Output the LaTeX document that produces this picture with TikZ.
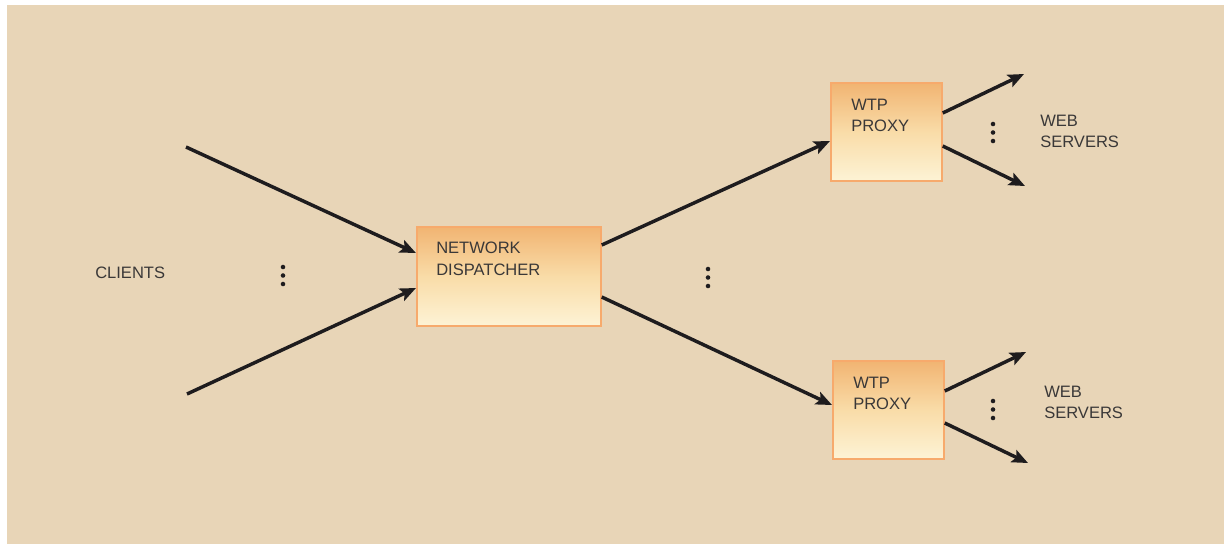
\documentclass[tikz,border=0pt]{standalone}
\usepackage{fontspec}
\setmainfont{Liberation Sans}
\usetikzlibrary{arrows.meta}

\definecolor{bg}{RGB}{232,213,183}
\definecolor{boxedge}{RGB}{247,170,108}
\definecolor{boxtop}{RGB}{241,180,114}
\definecolor{boxmid}{RGB}{249,220,168}
\definecolor{boxbot}{RGB}{253,243,213}
\definecolor{ink}{RGB}{30,28,30}
\definecolor{txt}{RGB}{58,56,56}

\begin{document}
\begin{tikzpicture}[x=0.75pt,y=-0.75pt,
  stage/.style={draw=boxedge, line width=1.3pt, top color=boxtop,
    bottom color=boxbot, middle color=boxmid, inner sep=0pt, anchor=north west},
  label text/.style={font=\fontsize{12.4}{16}\selectfont, text=txt, align=left,
    inner sep=0pt, anchor=north west},
  conn/.style={draw=ink, line width=2.6pt,
    -{Stealth[length=12pt,width=10pt,inset=2.5pt]}},
  dot/.style={fill=ink}]

  \useasboundingbox (0,0) rectangle (1224,544);
  \fill[white] (0,0) rectangle (1224,544);
  \fill[bg] (7,5) rectangle (1224,544);

  % boxes
  \node[stage, minimum width=138pt, minimum height=74.25pt] (disp) at (416,226) {};
  \node[stage, minimum width=83.25pt, minimum height=73.5pt] (ptop) at (830,82) {};
  \node[stage, minimum width=83.25pt, minimum height=73.5pt] (pbot) at (832,360) {};

  % texts
  \node[label text] (dispT) at (436,242) {NETWORK\\DISPATCHER};
  \node[label text] (ptopT) at (851,99) {WTP\\PROXY};
  \node[label text] (pbotT) at (853,377) {WTP\\PROXY};
  \node[label text] (wsTop) at (1040,115) {WEB\\SERVERS};
  \node[label text] (wsBot) at (1044,386) {WEB\\SERVERS};
  \node[label text] (clients) at (95,267) {CLIENTS};

  % free ends of the connectors
  \coordinate (c1) at (186,147);
  \coordinate (c2) at (187,394);
  \coordinate (w1) at (1024,74);
  \coordinate (w2) at (1025,186);
  \coordinate (w3) at (1026,352);
  \coordinate (w4) at (1028,463);

  % connectors
  \draw[conn] (c1) -- (disp.west |- 0,253);
  \draw[conn] (c2) -- (disp.west |- 0,288);
  \draw[conn] (disp.east |- 0,245) -- (ptop.west |- 0,141);
  \draw[conn] (disp.east |- 0,297) -- (pbot.west |- 0,405);
  \draw[conn] (ptop.east |- 0,113) -- (w1);
  \draw[conn] (ptop.east |- 0,146) -- (w2);
  \draw[conn] (pbot.east |- 0,391) -- (w3);
  \draw[conn] (pbot.east |- 0,423) -- (w4);

  % ellipsis dots
  \foreach \x/\y in {283/267, 708/269, 993/124, 993/401}{
    \fill[dot] (\x,\y) circle (1.7pt);
    \fill[dot] (\x,\y+8.5) circle (1.7pt);
    \fill[dot] (\x,\y+17) circle (1.7pt);
  }
\end{tikzpicture}
\end{document}
